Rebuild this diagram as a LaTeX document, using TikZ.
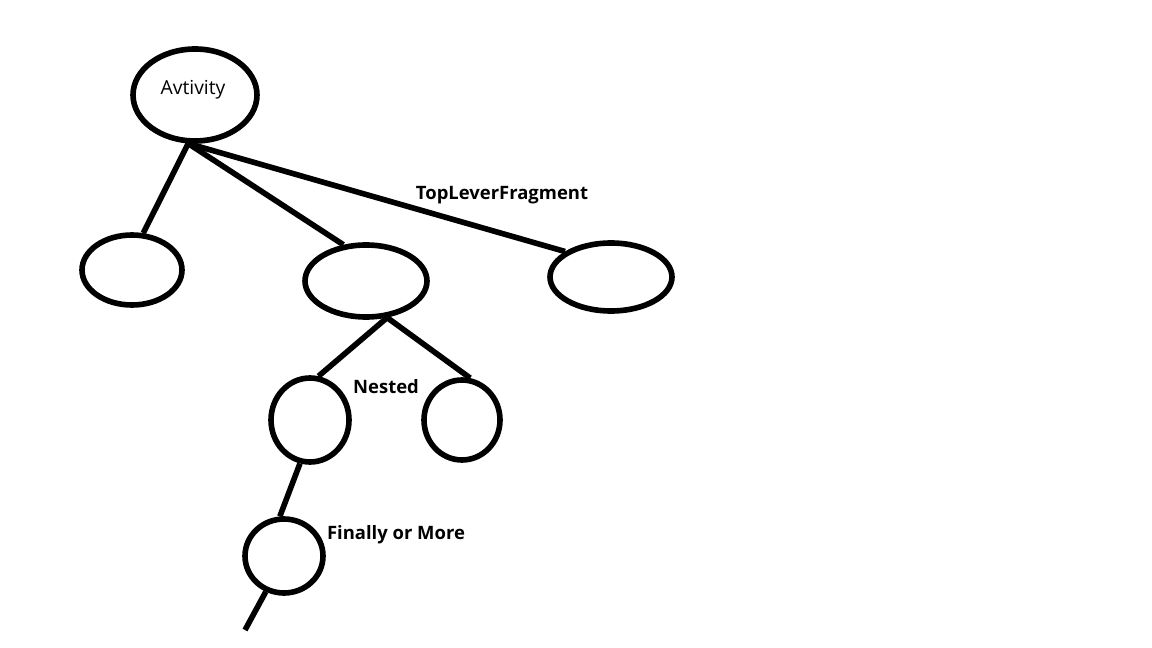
\documentclass[tikz,border=0pt]{standalone}
\usepackage{fontspec}
\setmainfont{Open Sans}
\usetikzlibrary{shapes.geometric}

\begin{document}
\begin{tikzpicture}[x=0.02cm, y=-0.02cm,
		blob/.style={draw, ellipse, line width=3.2pt, inner sep=0pt},
		link/.style={line width=3.2pt},
		tag/.style={font=\bfseries\fontsize{10.5}{13}\selectfont}]
		\useasboundingbox (0,0) rectangle (1152,648);
		% top level
		\node[blob, minimum width=2.48cm, minimum height=1.84cm] at (195,95) (act) {};
		\node[font=\fontsize{11}{13}\selectfont] at (193,90) (acttext) {Avtivity};
		\node[blob, minimum width=2cm, minimum height=1.4cm] at (132,270) (left) {};
		\node[blob, minimum width=2.44cm, minimum height=1.44cm] at (366,281) (mid) {};
		\node[blob, minimum width=2.44cm, minimum height=1.36cm] at (611,277) (right) {};
		% nested
		\node[blob, minimum width=1.56cm, minimum height=1.68cm] at (310,420) (nestl) {};
		\node[blob, minimum width=1.52cm, minimum height=1.6cm] at (462,420) (nestr) {};
		\node[blob, minimum width=1.56cm, minimum height=1.48cm] at (284,556) (last) {};
		\coordinate (tail) at (245,630);
		% connectors
		\draw[link] (act.262) -- (left.73);
		\draw[link] (act.262) -- (mid.122);
		\draw[link] (act.262) -- (right.151);
		\draw[link] (mid.300) -- (nestl.79);
		\draw[link] (mid.300) -- (nestr.79);
		\draw[link] (nestl.257) -- (last.96);
		\draw[link] (last.243) -- (tail);
		% labels
		\node[tag] at (502,195) (toplbl) {TopLeverFragment};
		\node[tag] at (386,387) (nestlbl) {Nested};
		\node[tag] at (396,535) (morelbl) {Finally or More};
	\end{tikzpicture}
\end{document}
